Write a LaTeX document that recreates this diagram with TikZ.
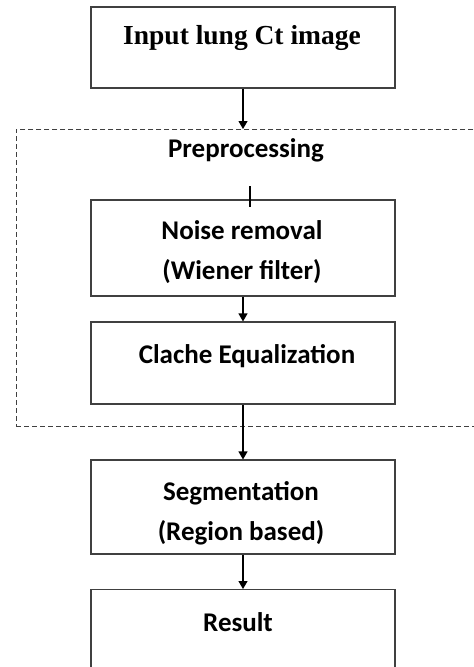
\documentclass[tikz,border=0pt]{standalone}
\usepackage{fontspec}
\setmainfont{Carlito}
\newfontfamily\titlefont{Liberation Serif}
\usetikzlibrary{arrows.meta}

\begin{document}
\begin{tikzpicture}[x=1pt,y=-1pt,line width=1.1pt,
  box/.style={draw=black!75,minimum width=304pt,inner sep=0pt},
  lbl/.style={font=\fontsize{27}{40}\selectfont\bfseries,inner sep=0pt,align=center},
  arr/.style={-{Triangle[width=9pt,length=8pt]}}]
\useasboundingbox (0,0) rectangle (474,667);
\clip (0,0) rectangle (474,667);
% boxes
\node[box,minimum height=81pt] (1) at (243,47.5) {};
\node[draw=black!75,dash pattern=on 5pt off 3pt,line width=0.9pt,minimum width=484pt,minimum height=297pt,inner sep=0pt,anchor=north west] (pre) at (16,129) {};
\node[box,minimum height=96pt] (2) at (243,248) {};
\node[box,minimum height=82pt] (3) at (243,363) {};
\node[box,minimum height=94pt] (4) at (243,507) {};
\node[box,minimum height=120pt,anchor=north] (5) at (243,589) {};
% texts
\node[lbl,font=\fontsize{27.5}{32}\selectfont\bfseries\titlefont] (1t) at (242,38) {Input lung Ct image};
\node[lbl] (pt) at (246,150) {Preprocessing};
\node[lbl] (2t) at (242,252) {Noise removal\\(Wiener filter)};
\node[lbl] (3t) at (247,356) {Clache Equalization};
\node[lbl] (4t) at (241,513) {Segmentation\\(Region based)};
\node[lbl] (5t) at (238,622) {Result};
% edges
\coordinate (t1) at (250,186);
\coordinate (t2) at (250,207);
\draw[arr] (1) -- (1 |- pre.north);
\draw[-] (t1) -- (t2);
\draw[arr] (2) -- (3);
\draw[arr] (3) -- (4);
\draw[arr] (4) -- (5);
\end{tikzpicture}
\end{document}
